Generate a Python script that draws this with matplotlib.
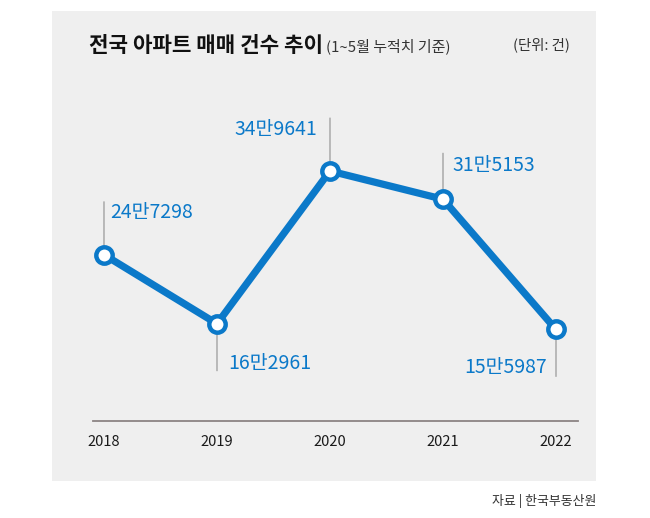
import matplotlib
matplotlib.use("Agg")
import matplotlib.pyplot as plt
from matplotlib.patches import Rectangle

plt.rcParams['font.family'] = ['Noto Sans CJK KR', 'DejaVu Sans']

years = [2018, 2019, 2020, 2021, 2022]
values = [247298, 162961, 349641, 315153, 155987]
labels = ["24만7298", "16만2961", "34만9641", "31만5153", "15만5987"]

title = "전국 아파트 매매 건수 추이"
subtitle = "(1~5월 누적치 기준)"
unit = "(단위: 건)"
source = "자료 | 한국부동산원"

blue = "#0b79c9"
W, H = 650, 518

fig = plt.figure(figsize=(6.5, 5.18), dpi=100)
fig.patch.set_facecolor("white")

# grey panel
fig.patches.append(Rectangle((52 / W, 1 - 481 / H), (596 - 52) / W, (481 - 11) / H,
                             transform=fig.transFigure, facecolor="#efefef",
                             edgecolor="none", zorder=-1))

ax = fig.add_axes([93 / W, 1 - 421 / H, (578 - 93) / W, (421 - 100) / H])
ax.set_zorder(2)
ax.set_facecolor("none")
ax.plot(years, values, color=blue, lw=5.2, marker="o", ms=11.8,
        mfc="white", mec=blue, mew=3.2, zorder=3, solid_capstyle="round")

ax.set_xlim(2017.9027, 2022.1947)
ax.set_ylim(44141, 436403)

# leader lines and value labels (pixel offsets)
lead = [53, -47, 53, 46, -47]
tx = [6, 11, -13, 9, -9]
ty = [42, -40, 42, 34, -38]
for x, v, s, l, dx, dy in zip(years, values, labels, lead, tx, ty):
    ax.annotate("", xy=(x, v), xytext=(0, l), textcoords="offset pixels",
                arrowprops=dict(arrowstyle="-", color="#8f8f8f", lw=0.8,
                                shrinkA=0, shrinkB=0), zorder=1)
    ax.annotate(s, xy=(x, v), xytext=(dx, dy), textcoords="offset pixels",
                ha="left" if dx > 0 else "right", va="center",
                fontsize=14, color=blue, zorder=4)

for sp in ["top", "left", "right"]:
    ax.spines[sp].set_visible(False)
ax.spines["bottom"].set_color("#8c8484")
ax.spines["bottom"].set_linewidth(1.3)
ax.set_yticks([])
ax.set_xticks(years)
ax.set_xticklabels([str(y) for y in years], fontsize=10.5, color="#1a1a1a")
ax.tick_params(axis="x", length=0, pad=10)

fig.text(89 / W, 1 - 45 / H, title, fontsize=15.3, fontweight="bold",
         color="#111111", va="center", ha="left")
fig.text(326 / W, 1 - 46 / H, subtitle, fontsize=10.8, color="#333333",
         va="center", ha="left")
fig.text(570 / W, 1 - 45 / H, unit, fontsize=10.4, color="#333333",
         va="center", ha="right")
fig.text(596 / W, 1 - 501 / H, source, fontsize=9.3, color="#333333",
         va="center", ha="right")

fig.savefig("out.png", dpi=100)
